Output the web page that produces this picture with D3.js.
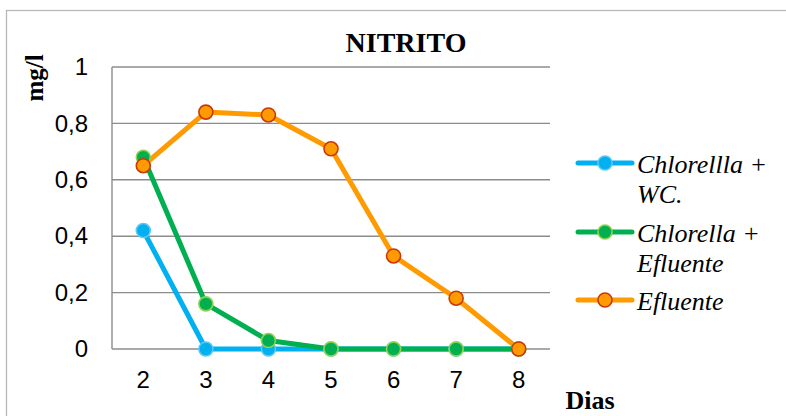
<!DOCTYPE html>
<html><head><meta charset="utf-8">
<script src="https://cdn.jsdelivr.net/npm/d3@7"></script>
<style>body{margin:0;background:#fff}svg{display:block}</style>
</head><body>
<svg id="c" width="786" height="416"></svg>
<script>
const days = ["2","3","4","5","6","7","8"];
const yTicks = [0, 0.2, 0.4, 0.6, 0.8, 1];
const chlorellaWC = [0.42, 0, 0, 0, 0, 0, 0];
const chlorellaEfluente = [0.68, 0.16, 0.03, 0, 0, 0, 0];
const efluente = [0.65, 0.84, 0.83, 0.71, 0.33, 0.18, 0];
const seriesNames = [["Chlorellla +", "WC."], ["Chlorella +", "Efluente"], ["Efluente"]];

const SERIF = "'Liberation Serif', 'Times New Roman', serif";
const SANS = "'Liberation Sans', Arial, sans-serif";

const series = [
  {name: seriesNames[0], values: chlorellaWC, line: "#00B0F0", fill: "#00B0F0", stroke: "#5CC8F4"},
  {name: seriesNames[1], values: chlorellaEfluente, line: "#00B050", fill: "#00B050", stroke: "#92D050"},
  {name: seriesNames[2], values: efluente, line: "#FF9A00", fill: "#FF9A00", stroke: "#C8380A"}
];

const svg = d3.select("#c");
const L = 112, R = 550, T = 67, B = 349;
const x = d3.scaleBand().domain(days).range([L, R]);
const y = d3.scaleLinear().domain([0, 1]).range([B, T]);
const fmt = d => d === 0 || d === 1 ? String(d) : String(d).replace(".", ",");

svg.append("rect").attr("x", 6.5).attr("y", 10.5).attr("width", 900).attr("height", 500)
  .attr("fill", "none").attr("stroke", "#b8b8b8").attr("stroke-width", 1.3);

svg.append("g").selectAll("line").data(yTicks).join("line")
  .attr("x1", L).attr("x2", R).attr("y1", d => y(d)).attr("y2", d => y(d))
  .attr("stroke", "#8c8c8c").attr("stroke-width", 1.4);
svg.append("line").attr("x1", L).attr("x2", L).attr("y1", T).attr("y2", B)
  .attr("stroke", "#8c8c8c").attr("stroke-width", 1.4);

const yAxis = d3.axisLeft(y).tickValues(yTicks).tickFormat(fmt).tickSize(0).tickPadding(24);
const gy = svg.append("g").attr("transform", `translate(${L},0)`).call(yAxis);
gy.select(".domain").remove();
gy.selectAll("text").style("font-family", SANS).style("font-size", "24px").attr("fill", "#000");

const xAxis = d3.axisBottom(x).tickSize(0).tickPadding(22);
const gx = svg.append("g").attr("transform", `translate(0,${B})`).call(xAxis);
gx.select(".domain").remove();
gx.selectAll("text").style("font-family", SANS).style("font-size", "24px").attr("fill", "#000");

const cx = d => x(d) + x.bandwidth() / 2;
const line = d3.line().x((v, i) => cx(days[i])).y(v => y(v));

series.forEach(s => {
  svg.append("path").attr("d", line(s.values)).attr("fill", "none")
    .attr("stroke", s.line).attr("stroke-width", 5).attr("stroke-linejoin", "round");
});
series.forEach(s => {
  svg.append("g").selectAll("circle").data(s.values).join("circle")
    .attr("cx", (v, i) => cx(days[i])).attr("cy", v => y(v)).attr("r", 7)
    .attr("fill", s.fill).attr("stroke", s.stroke).attr("stroke-width", 1.6);
});

svg.append("text").attr("x", 406).attr("y", 52).attr("text-anchor", "middle")
  .style("font-family", SERIF).style("font-weight", "bold").style("font-size", "28px").text("NITRITO");

svg.append("text").attr("transform", "translate(43,78) rotate(-90)").attr("text-anchor", "middle")
  .style("font-family", SERIF).style("font-weight", "bold").style("font-size", "25px").text("mg/l");

svg.append("text").attr("x", 590).attr("y", 409).attr("text-anchor", "middle")
  .style("font-family", SERIF).style("font-weight", "bold").style("font-size", "26px").text("Dias");

const legY = [163, 232, 300];
series.forEach((s, i) => {
  const g = svg.append("g").attr("transform", `translate(0,${legY[i]})`);
  g.append("line").attr("x1", 578).attr("x2", 632).attr("y1", 0).attr("y2", 0)
    .attr("stroke", s.line).attr("stroke-width", 5).attr("stroke-linecap", "round");
  g.append("circle").attr("cx", 605).attr("cy", 0).attr("r", 7)
    .attr("fill", s.fill).attr("stroke", s.stroke).attr("stroke-width", 1.6);
  const t = g.append("text").attr("x", 637).attr("y", 10)
    .style("font-family", SERIF).style("font-style", "italic").style("font-size", "26px");
  s.name.forEach((ln, j) => t.append("tspan").attr("x", 637).attr("dy", j ? 30 : 0).text(ln));
});
</script>
</body></html>
